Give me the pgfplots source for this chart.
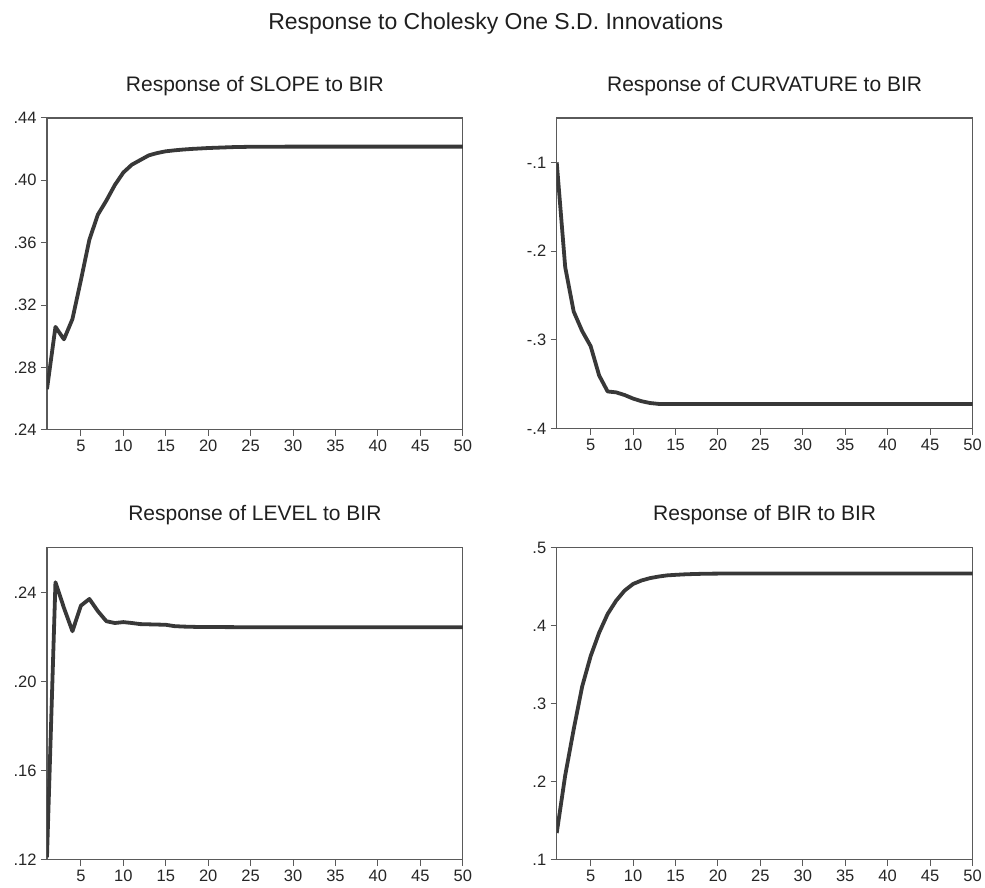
\documentclass[border=0pt]{standalone}
\usepackage{fontspec}
\setmainfont{Liberation Sans}
\usepackage{pgfplots}
\pgfplotsset{compat=1.18}
\definecolor{framec}{HTML}{5A5A5A}
\definecolor{curvec}{HTML}{383838}
\pgfplotsset{irf/.style={scale only axis, width=416pt, height=312pt,
  xmin=1, xmax=50, xtick={5,10,15,20,25,30,35,40,45,50},
  xticklabels={5,10,15,20,25,30,35,40,45,50},
  tick pos=left, tick align=outside, major tick length=6pt,
  axis line style={draw=framec, line width=1.4pt},
  every tick/.style={framec, line width=1pt},
  tick label style={font=\fontsize{16.5}{18}\selectfont, text=black!85},
  xticklabel style={yshift=-1pt}, yticklabel style={xshift=-1pt},
  anchor=south west}}
\begin{document}
\begin{tikzpicture}[x=1pt,y=1pt]
\path (0,0) rectangle (985,888);
\node[font=\fontsize{23}{26}\selectfont, text=black!88] at (496,864) {Response to Cholesky One S.D. Innovations};
\node[font=\fontsize{21}{24}\selectfont, text=black!88] at (255,802) {Response of SLOPE to BIR};
\node[font=\fontsize{21}{24}\selectfont, text=black!88] at (765,802) {Response of CURVATURE to BIR};
\node[font=\fontsize{21}{24}\selectfont, text=black!88] at (255,373) {Response of LEVEL to BIR};
\node[font=\fontsize{21}{24}\selectfont, text=black!88] at (765,373) {Response of BIR to BIR};

\begin{axis}[irf, at={(47pt,458pt)}, ymin=0.24, ymax=0.44,
  ytick={0.24,0.28,0.32,0.36,0.40,0.44}, yticklabels={.24,.28,.32,.36,.40,.44}]
\addplot[curvec, line width=3.8pt, line join=round, mark=none] table {
x y
1 0.266
2 0.306
3 0.298
4 0.311
5 0.336
6 0.362
7 0.378
8 0.387
9 0.397
10 0.405
11 0.410
12 0.413
13 0.416
14 0.4175
15 0.4186
16 0.4192
17 0.4197
18 0.4201
19 0.4204
20 0.4207
21 0.4209
22 0.4211
23 0.4213
24 0.4214
25 0.4215
30 0.4216
35 0.4216
40 0.4216
45 0.4216
50 0.4216
};
\end{axis}

\begin{axis}[irf, at={(557pt,459pt)}, width=416pt, height=311pt, ymin=-0.4, ymax=-0.05,
  ytick={-0.4,-0.3,-0.2,-0.1}, yticklabels={-.4,-.3,-.2,-.1}]
\addplot[curvec, line width=3.8pt, line join=round, mark=none] table {
x y
1 -0.100
2 -0.218
3 -0.268
4 -0.290
5 -0.307
6 -0.340
7 -0.358
8 -0.359
9 -0.362
10 -0.366
11 -0.369
12 -0.371
13 -0.372
15 -0.372
20 -0.372
25 -0.372
30 -0.372
35 -0.372
40 -0.372
45 -0.372
50 -0.372
};
\end{axis}

\begin{axis}[irf, at={(47pt,28pt)}, ymin=0.12, ymax=0.26,
  ytick={0.12,0.16,0.20,0.24}, yticklabels={.12,.16,.20,.24}]
\addplot[curvec, line width=3.8pt, line join=round, mark=none] table {
x y
1 0.121
2 0.2445
3 0.233
4 0.2225
5 0.234
6 0.237
7 0.2315
8 0.227
9 0.2262
10 0.2266
11 0.2262
12 0.2257
13 0.2256
14 0.2255
15 0.2254
16 0.2248
17 0.2246
18 0.2245
19 0.2244
20 0.2244
25 0.2243
30 0.2243
35 0.2243
40 0.2243
45 0.2243
50 0.2243
};
\end{axis}

\begin{axis}[irf, at={(557pt,28pt)}, ymin=0.1, ymax=0.5,
  ytick={0.1,0.2,0.3,0.4,0.5}, yticklabels={.1,.2,.3,.4,.5}]
\addplot[curvec, line width=3.8pt, line join=round, mark=none] table {
x y
1 0.134
2 0.208
3 0.267
4 0.322
5 0.361
6 0.391
7 0.415
8 0.432
9 0.445
10 0.4535
11 0.458
12 0.461
13 0.463
14 0.4645
15 0.4652
16 0.4658
17 0.4662
18 0.4665
19 0.4667
20 0.4668
25 0.4669
30 0.4669
35 0.4669
40 0.4669
45 0.4669
50 0.4669
};
\end{axis}
\end{tikzpicture}
\end{document}
